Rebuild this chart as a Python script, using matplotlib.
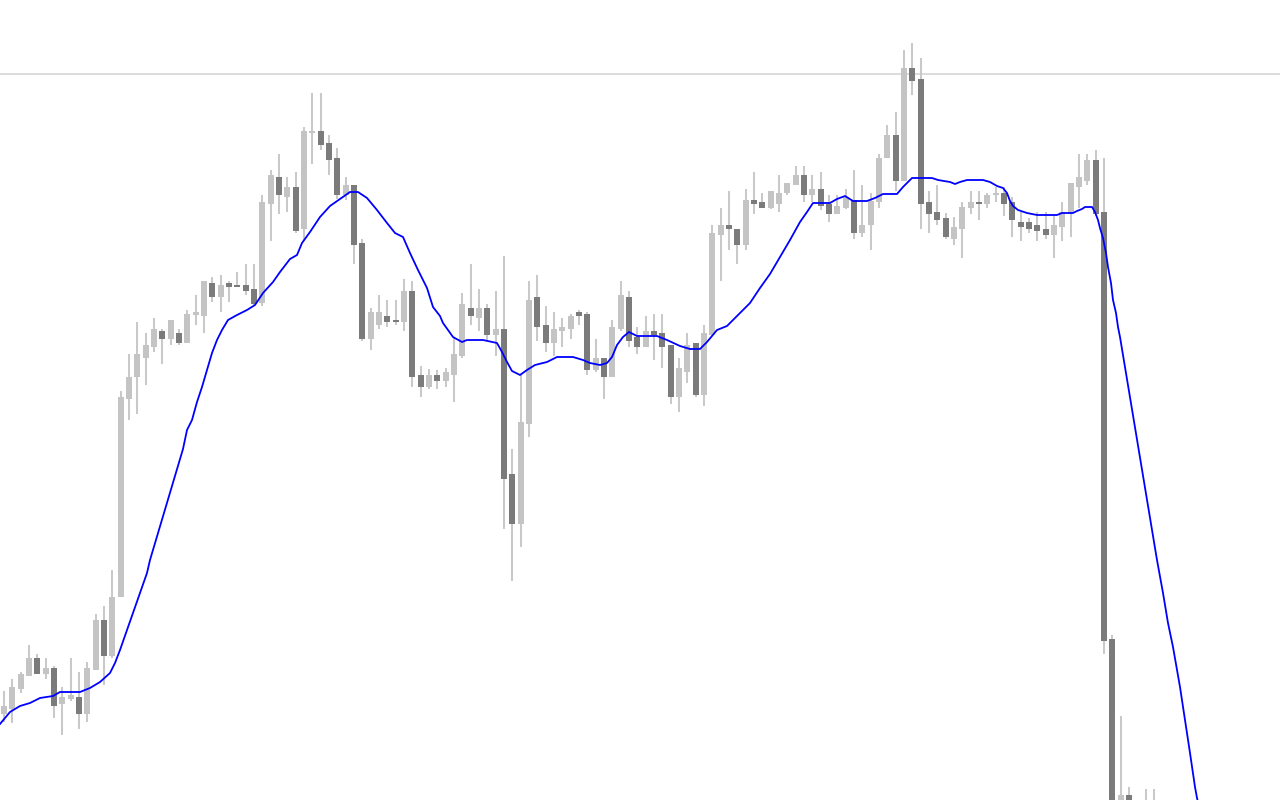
import numpy as np
import matplotlib
matplotlib.use("Agg")
import matplotlib.pyplot as plt

# velas (open, high, low, close), unidades de precio arbitrarias
opens = [86, 91, 111, 124, 142, 126, 132, 96, 101, 103, 86, 130, 180, 144, 203,
         401, 423, 442, 453, 469, 461, 467, 457, 485, 484, 517, 503, 517, 515, 515,
         511, 497, 596, 623, 603, 613, 571, 667, 669, 657, 642, 605, 615, 557, 461,
         475, 484, 480, 478, 509, 425, 413, 425, 419, 425, 444, 492, 482, 492, 465,
         471, 326, 276, 376, 503, 475, 457, 469, 471, 488, 486, 430, 442, 423, 471,
         503, 463, 453, 469, 467, 455, 403, 428, 457, 405, 465, 565, 575, 571, 555,
         600, 598, 592, 596, 607, 615, 625, 605, 611, 596, 586, 592, 600, 567, 575,
         598, 642, 665, 619, 732, 721, 598, 588, 582, 561, 571, 592, 598, 596, 605,
         607, 598, 578, 578, 575, 571, 565, 573, 587, 613, 619, 640, 588, 161, -12,
         5, -15, -20, -5]
highs = [109, 121, 128, 155, 146, 142, 134, 113, 142, 128, 138, 186, 194, 230, 409,
         446, 478, 467, 482, 471, 480, 471, 490, 505, 519, 523, 525, 519, 528, 536,
         536, 605, 630, 646, 623, 628, 673, 707, 707, 665, 652, 623, 615, 561, 492,
         505, 500, 500, 521, 519, 434, 431, 430, 432, 462, 507, 536, 511, 496, 509,
         544, 351, 425, 519, 525, 494, 488, 482, 486, 490, 488, 461, 442, 480, 519,
         509, 473, 484, 486, 486, 455, 442, 467, 457, 475, 575, 592, 609, 571, 611,
         628, 607, 609, 625, 617, 634, 634, 625, 628, 605, 605, 611, 630, 615, 607,
         646, 675, 688, 750, 757, 742, 609, 615, 587, 583, 598, 609, 609, 607, 613,
         613, 603, 588, 582, 588, 588, 584, 598, 617, 646, 646, 650, 642, 165, 84,
         13, -5, 11, 11]
lows = [78, 77, 107, 124, 126, 121, 82, 65, 99, 71, 78, 130, 115, 142, 203,
        380, 386, 415, 448, 436, 455, 455, 457, 475, 467, 498, 488, 498, 513, 505,
        495, 494, 559, 586, 588, 567, 559, 636, 650, 625, 601, 600, 536, 459, 450,
        471, 473, 475, 469, 413, 403, 411, 411, 413, 398, 442, 475, 469, 460, 444,
        271, 219, 253, 363, 459, 448, 444, 453, 461, 475, 425, 428, 401, 423, 469,
        453, 446, 453, 440, 432, 396, 388, 417, 403, 394, 465, 519, 550, 536, 550,
        586, 592, 591, 588, 605, 615, 598, 598, 590, 578, 586, 591, 561, 563, 550,
        592, 642, 609, 619, 705, 571, 567, 575, 561, 555, 542, 586, 580, 592, 598,
        584, 563, 559, 567, 559, 561, 542, 559, 563, 592, 615, 584, 146, -30, -25,
        -30, -40, -35, -30]
closes = [94, 113, 126, 142, 126, 132, 94, 103, 105, 86, 132, 180, 144, 203, 403,
          423, 446, 455, 471, 461, 480, 457, 486, 488, 519, 503, 515, 513, 513, 509,
          496, 598, 625, 605, 613, 569, 669, 669, 655, 640, 605, 615, 555, 461, 488,
          488, 478, 478, 509, 423, 413, 425, 419, 428, 446, 496, 484, 492, 465, 471,
          321, 276, 378, 500, 473, 457, 471, 473, 484, 484, 430, 442, 423, 473, 505,
          459, 453, 469, 465, 453, 403, 432, 455, 405, 467, 567, 575, 571, 555, 600,
          596, 592, 609, 607, 617, 625, 605, 611, 594, 586, 594, 603, 567, 575, 599,
          642, 665, 619, 732, 719, 596, 586, 580, 563, 573, 593, 598, 596, 605, 607,
          596, 580, 573, 571, 569, 565, 575, 588, 617, 623, 640, 586, 159, -20, 5,
          -15, -25, -5, -15]

# media movil (desplazada) leida punto a punto: posicion en barras, valor
ma_bar = [-0.48, 0.72, 1.92, 3.12, 4.32, 5.88, 6.72, 9.12, 10.32, 11.52, 12.72, 13.32,
          13.92, 14.76, 15.48, 16.32, 17.16, 17.52, 21.48, 21.96, 22.56, 23.16, 23.76,
          24.36, 24.96, 25.56, 26.16, 26.88, 27.96, 29.16, 30.12, 31.08, 32.28, 33.12,
          34.32, 35.16, 35.76, 36.72, 37.92, 39.12, 40.32, 41.52, 42.48, 43.56, 44.76,
          45.96, 46.92, 47.88, 48.72, 49.68, 50.76, 51.48, 52.32, 52.68, 53.88, 54.96,
          55.56, 57.48, 59.16, 59.76, 60.36, 60.96, 61.92, 62.76, 63.72, 65.16, 66.36,
          68.28, 69.48, 70.32, 71.52, 72.36, 72.96, 73.56, 74.28, 75.0, 75.96, 78.36,
          79.56, 81.12, 82.32, 83.52, 84.36, 85.56, 86.76, 88.32, 89.52, 90.72, 91.92,
          93.12, 94.32, 95.52, 96.36, 97.08, 99.12, 99.96, 100.92, 101.88, 103.56,
          104.52, 105.48, 107.16, 107.88, 108.96, 111.36, 112.08, 113.52, 114.12,
          114.72, 115.56, 117.48, 118.32, 119.16, 119.88, 120.36, 120.72, 121.08,
          121.68, 122.76, 123.96, 126.36, 126.96, 128.28, 128.76, 129.36, 129.72,
          130.56, 130.92, 131.28, 131.52, 131.88, 132.24, 132.48, 132.84, 133.08,
          133.44, 133.68, 133.92, 138.36, 139.08, 139.68, 140.28, 141.12, 141.72,
          142.32, 142.92, 143.16, 143.52]
ma_val = [76, 88, 94, 97, 102, 104, 108, 108, 112, 118, 127, 137, 150, 170, 187, 207,
          227, 240, 351, 370, 380, 398, 413, 430, 447, 460, 470, 480, 485, 490, 495,
          507, 518, 528, 541, 545, 557, 568, 583, 594, 601, 608, 608, 602, 590, 577,
          567, 563, 547, 530, 512, 493, 484, 477, 463, 458, 460, 460, 457, 448, 438,
          429, 425, 430, 435, 438, 443, 443, 440, 437, 435, 437, 443, 455, 463, 468,
          464, 464, 460, 454, 451, 451, 458, 470, 474, 487, 497, 512, 526, 543, 560,
          578, 588, 597, 597, 601, 604, 599, 599, 602, 606, 606, 613, 622, 622, 620,
          618, 616, 618, 620, 620, 618, 614, 612, 607, 599, 594, 590, 587, 585, 585,
          587, 587, 589, 591, 593, 593, 588, 580, 572, 562, 547, 533, 517, 500, 487,
          473, 463, 240, 207, 177, 153, 113, 80, 47, 13, 2, -10]

nivel = 726   # linea horizontal gris

bull_color = "#c4c4c4"
bear_color = "#7b7b7b"
wick_color = "#c9c9c9"

opens = np.array(opens, dtype=float)
highs = np.array(highs, dtype=float)
lows = np.array(lows, dtype=float)
closes = np.array(closes, dtype=float)
x = np.arange(len(opens))

fig = plt.figure(figsize=(12.8, 8), dpi=100)
ax = fig.add_axes([0, 0, 1, 1])
ax.set_xlim(-0.48, 153.12)
ax.set_ylim(0, 800)
ax.axis("off")

ax.axhline(nivel, color="#dcdcdc", lw=1.4, zorder=1)

# mechas
ax.vlines(x, lows, highs, color=wick_color, lw=1.45, zorder=2)

# cuerpos
alcista = closes >= opens
altura = np.abs(closes - opens)
altura = np.maximum(altura, 1.5)
base = np.minimum(opens, closes)
colores = np.where(alcista, bull_color, bear_color)
ax.bar(x, altura, bottom=base, width=0.72, color=colores, edgecolor="none", zorder=3)

ax.plot(ma_bar, ma_val, color="#0000ff", lw=1.3, zorder=4)

fig.savefig("out.png", dpi=100)
